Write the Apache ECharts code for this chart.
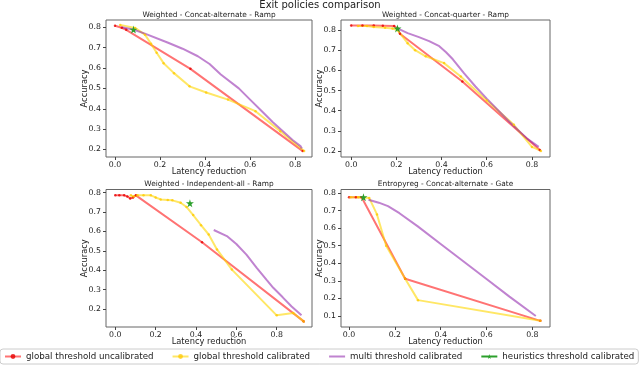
<!DOCTYPE html>
<html>
<head>
<meta charset="utf-8">
<script src="https://cdn.jsdelivr.net/npm/echarts@6/dist/echarts.min.js"></script>
<style>
  html, body { margin: 0; padding: 0; background: #fff; }
  #main { width: 640px; height: 366px; }
</style>
</head>
<body>
<div id="main"></div>
<script>
  // panel titles
  var panelTitles = [
    'Weighted - Concat-alternate - Ramp',
    'Weighted - Concat-quarter - Ramp',
    'Weighted - Independent-all - Ramp',
    'Entropyreg - Concat-alternate - Gate'
  ];
  var seriesNames = [
    'global threshold uncalibrated',
    'global threshold calibrated',
    'multi threshold calibrated',
    'heuristics threshold calibrated'
  ];

  // [latency reduction, accuracy]
  var uncal1 = [[0, 0.808], [0.03, 0.798], [0.05, 0.788], [0.335, 0.596], [0.834, 0.192]];
  var cal1 = [[0.023, 0.812], [0.089, 0.797], [0.133, 0.764], [0.16, 0.719], [0.185, 0.675], [0.216, 0.624],
    [0.262, 0.575], [0.331, 0.51], [0.405, 0.48], [0.502, 0.445], [0.624, 0.388], [0.734, 0.29], [0.84, 0.192]];
  var multi1 = [[0.03, 0.80], [0.08, 0.789], [0.133, 0.769], [0.236, 0.724], [0.30, 0.695], [0.368, 0.658],
    [0.42, 0.62], [0.47, 0.568], [0.55, 0.50], [0.60, 0.445], [0.65, 0.39], [0.70, 0.335], [0.79, 0.245],
    [0.825, 0.215], [0.83, 0.205]];
  var heur1 = [[0.082, 0.789]];

  var uncal2 = [[0, 0.823], [0.05, 0.823], [0.10, 0.823], [0.14, 0.822], [0.19, 0.82], [0.205, 0.808],
    [0.216, 0.782], [0.492, 0.545], [0.835, 0.205]];
  var cal2 = [[0.03, 0.82], [0.07, 0.82], [0.1, 0.815], [0.15, 0.812], [0.183, 0.808], [0.205, 0.80],
    [0.25, 0.735], [0.283, 0.70], [0.33, 0.67], [0.411, 0.636], [0.485, 0.57], [0.6, 0.45], [0.72, 0.33],
    [0.80, 0.22], [0.84, 0.2]];
  var multi2 = [[0.205, 0.808], [0.25, 0.785], [0.3, 0.765], [0.345, 0.745], [0.39, 0.72], [0.42, 0.69],
    [0.45, 0.655], [0.5, 0.585], [0.55, 0.52], [0.6, 0.46], [0.7, 0.345], [0.78, 0.26], [0.83, 0.22]];
  var heur2 = [[0.205, 0.808]];

  var uncal3 = [[0, 0.786], [0.02, 0.786], [0.044, 0.786], [0.06, 0.78], [0.074, 0.77], [0.088, 0.775],
    [0.102, 0.786], [0.43, 0.544], [0.934, 0.136]];
  var cal3 = [[0.077, 0.786], [0.09, 0.78], [0.11, 0.786], [0.14, 0.786], [0.176, 0.786], [0.2, 0.775],
    [0.225, 0.765], [0.26, 0.762], [0.283, 0.76], [0.324, 0.748], [0.353, 0.726], [0.386, 0.684],
    [0.425, 0.632], [0.463, 0.584], [0.504, 0.507], [0.578, 0.403], [0.8, 0.167], [0.882, 0.179], [0.934, 0.136]];
  var multi3 = [[0.488, 0.607], [0.553, 0.576], [0.6, 0.535], [0.65, 0.48], [0.701, 0.412], [0.75, 0.35],
    [0.783, 0.309], [0.83, 0.26], [0.874, 0.213], [0.923, 0.167]];
  var heur3 = [[0.37, 0.745]];

  var uncal4 = [[0, 0.776], [0.03, 0.776], [0.055, 0.776], [0.245, 0.312], [0.835, 0.072]];
  var cal4 = [[0.007, 0.776], [0.04, 0.776], [0.088, 0.772], [0.122, 0.678], [0.162, 0.5], [0.245, 0.312],
    [0.301, 0.19], [0.835, 0.072]];
  var multi4 = [[0.085, 0.762], [0.13, 0.745], [0.17, 0.725], [0.22, 0.685], [0.3, 0.61], [0.4, 0.51],
    [0.5, 0.41], [0.6, 0.31], [0.7, 0.21], [0.815, 0.1]];
  var heur4 = [[0.063, 0.776]];

  var xTicks = [0, 0.2, 0.4, 0.6, 0.8];
  var yTicks = [
    [0.2, 0.3, 0.4, 0.5, 0.6, 0.7, 0.8],
    [0.2, 0.3, 0.4, 0.5, 0.6, 0.7, 0.8],
    [0.2, 0.3, 0.4, 0.5, 0.6, 0.7, 0.8],
    [0.1, 0.2, 0.3, 0.4, 0.5, 0.6, 0.7, 0.8]
  ];

  var panels = [
    [uncal1, cal1, multi1, heur1],
    [uncal2, cal2, multi2, heur2],
    [uncal3, cal3, multi3, heur3],
    [uncal4, cal4, multi4, heur4]
  ];

  // layout
  var grids = [
    { left: 106, right: 328, top: 20, bottom: 209 },
    { left: 341, right: 90, top: 20, bottom: 209 },
    { left: 106, right: 328, top: 189.5, bottom: 39 },
    { left: 341, right: 90, top: 189.5, bottom: 39 }
  ];
  var xRange = [[-0.04, 0.875], [-0.045, 0.88], [-0.046, 0.975], [-0.035, 0.877]];
  var yRange = [[0.163, 0.836], [0.17, 0.85], [0.107, 0.816], [0.037, 0.82]];

  var FONT = 'DejaVu Sans';
  var colors = ['rgba(255,0,0,0.55)', 'rgba(255,215,0,0.6)', 'rgba(140,30,170,0.55)', '#2ca02c'];
  var dotColors = ['rgba(230,0,0,0.8)', 'rgba(255,200,0,0.75)', 'rgba(140,30,170,0.55)', '#2ca02c'];
  var star = 'path://M50,0 L61,35 L98,35 L68,57 L79,91 L50,70 L21,91 L32,57 L2,35 L39,35 Z';

  var fmt = function (v) { return v.toFixed(1); };

  var titles = [{
    text: 'Exit policies comparison',
    left: 'center', top: 0, padding: 0,
    textStyle: { fontFamily: FONT, fontSize: 10, fontWeight: 'normal', color: '#222' }
  }];
  var xAxes = [], yAxes = [], series = [];

  grids.forEach(function (g, i) {
    g.show = true;
    g.borderColor = '#666';
    g.borderWidth = 1;
    var cx = g.left + (640 - g.right - g.left) / 2;
    titles.push({
      text: panelTitles[i],
      left: cx, textAlign: 'center',
      top: i < 2 ? 11.5 : 181, padding: 0,
      textStyle: { fontFamily: FONT, fontSize: 7.4, fontWeight: 'normal', color: '#222' }
    });
    xAxes.push({
      type: 'value', gridIndex: i, min: xRange[i][0], max: xRange[i][1],
      name: 'Latency reduction', nameLocation: 'middle', nameGap: 11, nameMoveOverlap: false,
      nameTextStyle: { fontFamily: FONT, fontSize: 8.3, color: '#222' },
      axisLine: { show: false, onZero: false },
      splitLine: { show: false },
      axisTick: { show: true, inside: false, length: 3, lineStyle: { color: '#444' }, customValues: xTicks },
      axisLabel: { fontFamily: FONT, fontSize: 7.8, color: '#222', margin: 4, customValues: xTicks, formatter: fmt }
    });
    yAxes.push({
      type: 'value', gridIndex: i, min: yRange[i][0], max: yRange[i][1],
      name: 'Accuracy', nameLocation: 'middle', nameGap: 17, nameMoveOverlap: false,
      nameTextStyle: { fontFamily: FONT, fontSize: 8.3, color: '#222' },
      axisLine: { show: false, onZero: false },
      splitLine: { show: false },
      axisTick: { show: true, inside: false, length: 3, lineStyle: { color: '#444' }, customValues: yTicks[i] },
      axisLabel: { fontFamily: FONT, fontSize: 7.8, color: '#222', margin: 5, customValues: yTicks[i], formatter: fmt }
    });
    panels[i].forEach(function (d, k) {
      series.push({
        name: seriesNames[k],
        type: 'line',
        xAxisIndex: i, yAxisIndex: i,
        data: d,
        color: colors[k],
        symbol: k === 3 ? star : (k === 2 ? 'none' : 'circle'),
        symbolSize: k === 3 ? 8 : 2.5,
        showSymbol: k !== 2,
        lineStyle: { width: 2, color: colors[k] },
        itemStyle: { color: dotColors[k] },
        silent: true
      });
    });
  });

  var chart = echarts.init(document.getElementById('main'));
  chart.setOption({
    animation: false,
    backgroundColor: '#fff',
    title: titles,
    legend: {
      data: [
        seriesNames[0],
        seriesNames[1],
        { name: seriesNames[2], itemStyle: { color: 'rgba(0,0,0,0)', borderWidth: 0 } },
        seriesNames[3]
      ],
      left: 0, top: 349,
      padding: [3, 4, 3, 4],
      itemGap: 18, itemWidth: 16, itemHeight: 6,
      borderColor: '#ccc', borderWidth: 1, borderRadius: 3,
      textStyle: { fontFamily: FONT, fontSize: 8.7, color: '#222' }
    },
    grid: grids,
    xAxis: xAxes,
    yAxis: yAxes,
    series: series
  });
</script>
</body>
</html>
